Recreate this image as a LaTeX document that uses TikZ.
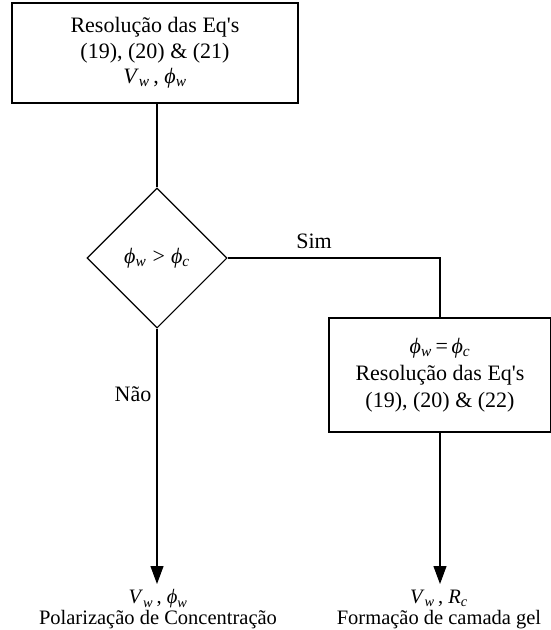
\documentclass[tikz,border=0pt]{standalone}
\usepackage{fontspec}
\setmainfont{Liberation Serif}
\usetikzlibrary{shapes.geometric,arrows.meta}
\newcommand{\vw}{\textit{V}\textsubscript{\textit{w}}}
\newcommand{\phw}{\textit{ϕ}\textsubscript{\textit{w}}}
\newcommand{\phc}{\textit{ϕ}\textsubscript{\textit{c}}}
\newcommand{\rc}{\textit{R}\textsubscript{\textit{c}}}
\newcommand{\eqs}{Eq\textquotesingle s}
\begin{document}
\begin{tikzpicture}[x=1pt,y=-1pt,
  every node/.style={font=\fontsize{22}{25.5}\selectfont, align=center, inner sep=0pt},
  procbox/.style={draw, line width=1.1pt, rectangle},
  decision/.style={draw, line width=1.1pt, diamond, minimum width=140pt, minimum height=140pt},
  conn/.style={line width=1.1pt},
  arr/.style={line width=1.1pt, -{Triangle[width=13pt,length=18pt]}},
  outtext/.style={font=\fontsize{20.5}{21}\selectfont, anchor=south}]
\useasboundingbox (0,0) rectangle (551,630);
\node[procbox, minimum width=286pt, minimum height=100pt] (top) at (155,53) {Resolução das \eqs\\(19), (20) \& (21)\\\vw\,, \phw};
\node[decision] (dec) at (157,258) {\phw\;>\;\phc};
\node[procbox, minimum width=222pt, minimum height=114pt, font=\fontsize{22}{27}\selectfont] (right) at (440,375) {\phw\,=\,\phc\\Resolução das \eqs\\(19), (20) \& (22)};
\coordinate (corner) at (right.north |- dec.east);
\coordinate (endL) at (dec.south |- 0,584);
\coordinate (endR) at (right.south |- 0,584);
\draw[conn] (top.south -| dec.north) -- (dec.north);
\draw[conn] (dec.east) -- (corner) -- (right.north);
\draw[arr] (dec.south) -- (endL);
\draw[arr] (right.south) -- (endR);
\node (sim) at (314,241) {Sim};
\node (nao) at (133,394) {Não};
\node[outtext] (outL) at (158,629.5) {\vw\,, \phw\\Polarização de Concentração};
\node[outtext] (outR) at (439,629.5) {\vw\,, \rc\\Formação de camada gel};
\end{tikzpicture}
\end{document}
